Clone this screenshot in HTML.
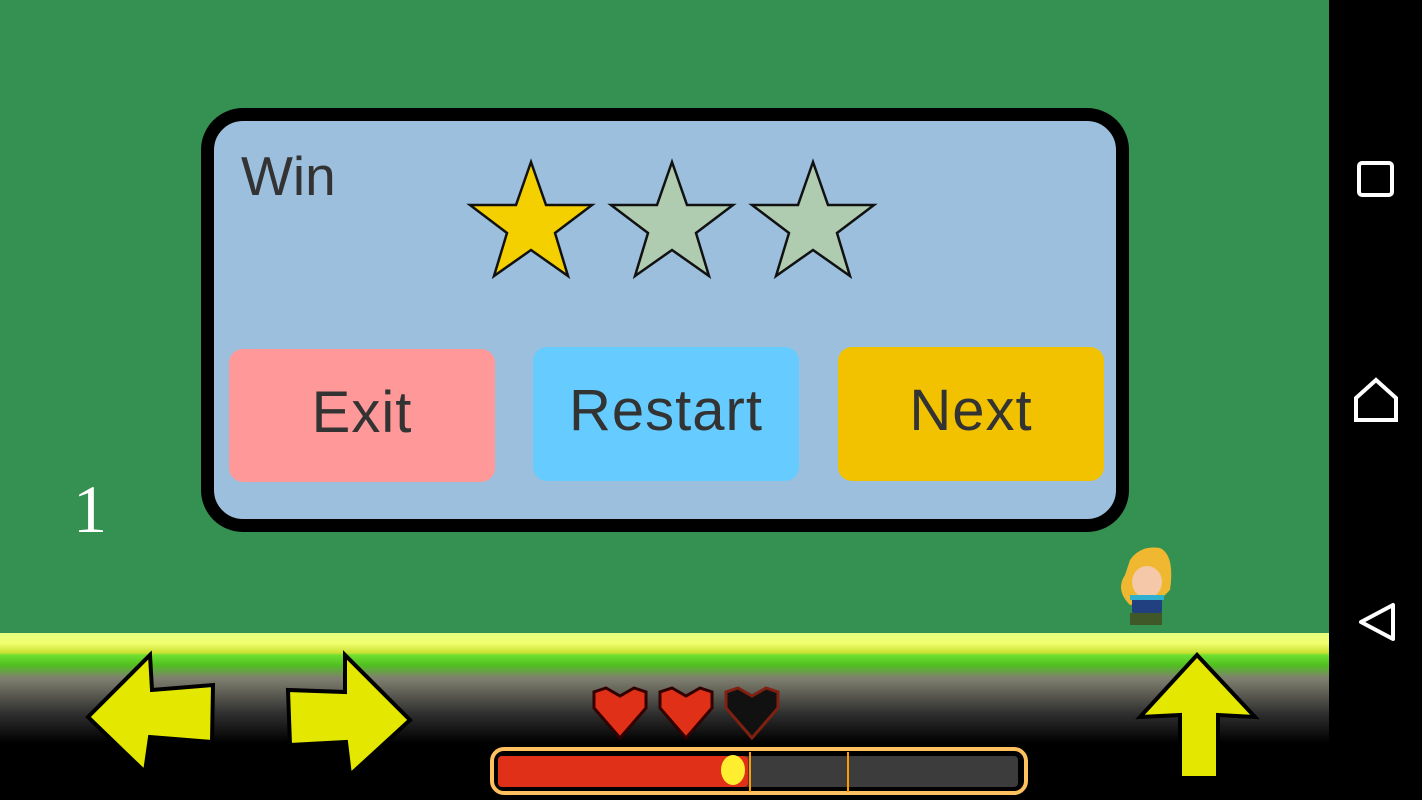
<!DOCTYPE html>
<html><head><style>
body{margin:0;width:1422px;height:800px;overflow:hidden;background:#000;font-family:"Liberation Sans",sans-serif}
.abs{position:absolute}
.btn{position:absolute;border-radius:14px;color:#333;font-size:58px;text-align:center;line-height:128px;letter-spacing:1px}
</style></head><body>
<div class="abs" style="left:0;top:0;width:1329px;height:800px;background:#359152"></div>
<div class="abs" style="left:0;top:633px;width:1329px;height:167px;background:linear-gradient(#e6ff80 0px,#f0ff70 10px,#c8e030 20px,#6fe030 22px,#50c020 32px,#808070 45px,#303030 80px,#000 110px)"></div>
<div class="abs" style="left:201px;top:108px;width:902px;height:398px;border:13px solid #000;border-radius:42px;background:#9bbfdc"></div>
<div class="abs" style="left:241px;top:144px;font-size:55px;color:#333">Win</div>
<div class="btn" style="left:229px;top:349px;width:266px;height:133px;background:#ff9999">Exit</div>
<div class="btn" style="left:533px;top:347px;width:266px;height:134px;background:#66ccff">Restart</div>
<div class="btn" style="left:838px;top:347px;width:266px;height:134px;background:#f2c200">Next</div>
<div class="abs" style="left:73px;top:470px;font-family:'Liberation Serif',serif;font-size:68px;color:#fff">1</div>
<svg class="abs" style="left:0;top:0" width="1422" height="800">
<defs><g id="st"><polygon points="0,-57 15,-14 61,-14 24,14 37,57 0,31 -37,57 -24,14 -61,-14 -15,-14" stroke="#111" stroke-width="2.5"/></g></defs>
<use href="#st" x="531" y="219" fill="#f5d000"/>
<use href="#st" x="672" y="219" fill="#b0ccb0"/>
<use href="#st" x="813" y="219" fill="#b0ccb0"/>
<polygon points="88,717 150,655 152,690 213,685 212,742 150,737 145,772" fill="#e4e800" stroke="#000" stroke-width="4"/>
<polygon points="410,720 345,655 345,692 288,690 290,745 346,742 350,775" fill="#e4e800" stroke="#000" stroke-width="4"/>
<polygon points="1197,655 1140,717 1180,715 1180,778 1218,778 1218,715 1255,717" fill="#e4e800" stroke="#000" stroke-width="4"/>
<g stroke="#300" stroke-width="3">
<path d="M620,738 L594,708 L594,692 L606,688 L620,696 L634,688 L646,692 L646,708 Z" fill="#e03018"/>
<path d="M686,738 L660,708 L660,692 L672,688 L686,696 L700,688 L712,692 L712,708 Z" fill="#e03018"/>
<path d="M752,738 L726,708 L726,692 L738,688 L752,696 L766,688 L778,692 L778,708 Z" fill="#111" stroke="#802010"/>
</g>
<rect x="492" y="749" width="534" height="44" rx="12" fill="#000" stroke="#ffc060" stroke-width="4"/>
<rect x="498" y="756" width="520" height="31" rx="4" fill="#3c3c3c"/>
<rect x="498" y="756" width="250" height="31" rx="4" fill="#e03018"/>
<ellipse cx="733" cy="770" rx="12" ry="15" fill="#ffee30"/>
<rect x="749" y="752" width="2" height="40" fill="#ff9a00"/>
<rect x="847" y="752" width="2" height="40" fill="#ff9a00"/>
<g>
<path d="M1130,560 Q1140,545 1160,548 Q1175,555 1170,590 L1160,600 L1130,605 Q1115,590 1125,575 Z" fill="#f0b830"/>
<ellipse cx="1147" cy="582" rx="15" ry="16" fill="#f4c8a8"/>
<rect x="1132" y="595" width="30" height="20" rx="4" fill="#204080"/>
<rect x="1130" y="595" width="34" height="5" fill="#30b0d0"/>
<rect x="1130" y="613" width="32" height="12" fill="#405828"/>
</g>
<rect x="1359" y="163" width="33" height="32" rx="3" fill="none" stroke="#fff" stroke-width="4"/>
<path d="M1356,420 L1356,398 L1376,380 L1396,398 L1396,420 Z" fill="none" stroke="#fff" stroke-width="4"/>
<path d="M1361,622 L1393,605 L1393,639 Z" fill="none" stroke="#fff" stroke-width="4" stroke-linejoin="round"/>
</svg>
</body></html>
